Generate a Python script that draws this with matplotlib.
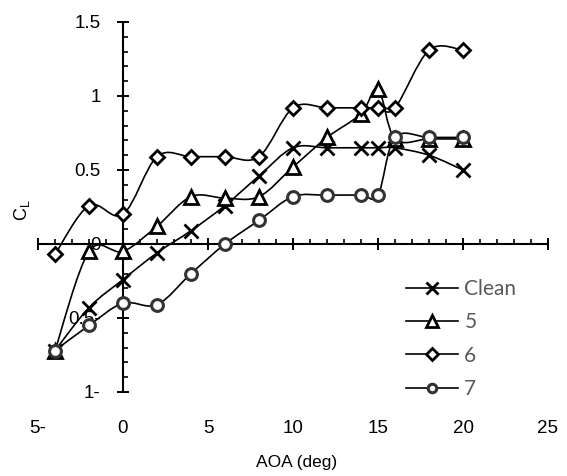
import numpy as np
import matplotlib
matplotlib.use('Agg')
import matplotlib.pyplot as plt
from matplotlib.path import Path
from matplotlib.patches import PathPatch
from matplotlib.lines import Line2D
from matplotlib.ticker import FixedLocator, MultipleLocator

# ---------------- data ----------------
aoa = [-4, -2, 0, 2, 4, 6, 8, 10, 12, 14, 15, 16, 18, 20]
cl_clean = [-0.72, -0.43, -0.24, -0.06, 0.09, 0.26, 0.46, 0.65, 0.65, 0.65, 0.65, 0.65, 0.60, 0.50]
cl_5 = [-0.72, -0.05, -0.05, 0.12, 0.32, 0.31, 0.32, 0.52, 0.72, 0.88, 1.05, 0.71, 0.71, 0.71]
cl_6 = [-0.07, 0.26, 0.20, 0.59, 0.59, 0.59, 0.59, 0.92, 0.92, 0.92, 0.92, 0.92, 1.31, 1.31]
cl_7 = [-0.72, -0.55, -0.40, -0.41, -0.20, 0.00, 0.16, 0.32, 0.33, 0.33, 0.33, 0.72, 0.72, 0.72]
series_labels = ['Clean', '5', '6', '7']
x_ticks = [-5, 0, 5, 10, 15, 20, 25]
x_tick_labels = ['5-', '0', '5', '10', '15', '20', '25']
y_ticks = [-1, -0.5, 0, 0.5, 1, 1.5]
y_tick_labels = ['1-', '0.5-', '0', '0.5', '1', '1.5']
x_title = 'AOA (deg)'
y_title = r'C$_\mathregular{L}$'


def smooth_path(x, y):
    """Excel-like smoothed line: Catmull-Rom segments drawn as cubic Beziers."""
    pts = np.column_stack([x, y]).astype(float)
    n = len(pts)
    verts = [pts[0]]
    codes = [Path.MOVETO]
    for i in range(n - 1):
        p0 = pts[i - 1] if i > 0 else pts[i]
        p1 = pts[i]
        p2 = pts[i + 1]
        p3 = pts[i + 2] if i + 2 < n else pts[i + 1]
        verts += [p1 + (p2 - p0) / 6.0, p2 - (p3 - p1) / 6.0, p2]
        codes += [Path.CURVE4] * 3
    return Path(verts, codes)


plt.rcParams['font.family'] = ['Liberation Sans', 'DejaVu Sans']
plt.rcParams['mathtext.fontset'] = 'custom'
plt.rcParams['mathtext.rm'] = 'Liberation Sans'

fig = plt.figure(figsize=(5.67, 4.76), dpi=100)
W, H = 567, 476
ax = fig.add_axes([38 / W, 1 - 392 / H, (548 - 38) / W, (392 - 22) / H])
ax.set_xlim(-5, 25)
ax.set_ylim(-1, 1.5)

styles = [
    dict(marker='x', markersize=9.5, markeredgewidth=2.0, markeredgecolor='black'),
    dict(marker='^', markersize=10.5, markeredgewidth=2.0, markeredgecolor='black', markerfacecolor='white'),
    dict(marker='D', markersize=7.0, markeredgewidth=2.0, markeredgecolor='black', markerfacecolor='white'),
    dict(marker='o', markersize=8.5, markeredgewidth=2.2, markeredgecolor='#333333', markerfacecolor='white'),
]
legend_marker_scale = [0.9, 0.85, 0.85, 0.72]

handles = []
for k, (vals, st, lab) in enumerate(zip([cl_clean, cl_5, cl_6, cl_7], styles, series_labels)):
    z = 3 + k * 0.2
    ax.add_patch(PathPatch(smooth_path(aoa, vals), fill=False, edgecolor='black',
                           lw=1.2, zorder=z))
    ax.plot(aoa, vals, linestyle='none', zorder=z + 0.1, **st)
    hst = dict(st)
    hst['markersize'] = st['markersize'] * legend_marker_scale[k]
    handles.append(Line2D([], [], color='black', lw=1.2, label=lab, **hst))

# axes through origin
for s in ['top', 'right']:
    ax.spines[s].set_visible(False)
ax.spines['left'].set_position(('data', 0))
ax.spines['bottom'].set_position(('data', 0))
for s in ['left', 'bottom']:
    ax.spines[s].set_linewidth(1.5)
ax.set_axisbelow(True)

ax.xaxis.set_major_locator(FixedLocator(x_ticks))
ax.set_xticklabels(x_tick_labels)
ax.yaxis.set_major_locator(FixedLocator(y_ticks))
ax.set_yticklabels(y_tick_labels)
ax.xaxis.set_minor_locator(MultipleLocator(1))
ax.yaxis.set_minor_locator(MultipleLocator(0.1))

ax.tick_params(which='major', direction='inout', length=9, width=1.4, labelsize=13.5)
ax.tick_params(which='minor', direction='in', length=3.6, width=1.2)
ax.tick_params(axis='y', which='major', pad=11.5)
ax.tick_params(axis='x', which='major', pad=122)

ax.set_xlabel(x_title, fontsize=12.5)
ax.xaxis.set_label_coords((297 - 38) / 510, (392 - 463) / 370)
ax.xaxis.label.set_va('center')
ax.set_ylabel(y_title, fontsize=13)
ax.yaxis.set_label_coords((22 - 38) / 510, (392 - 210) / 370)
ax.yaxis.label.set_va('center')

leg = ax.legend(handles=handles, loc='upper left', bbox_to_anchor=(406 / W, 1 - 279 / H),
                bbox_transform=fig.transFigure, frameon=False, borderpad=0, borderaxespad=0,
                handlelength=2.5, handletextpad=0.3, labelspacing=0.64,
                prop={'family': ['Lato', 'DejaVu Sans'], 'size': 15})
for t in leg.get_texts():
    t.set_color('#595959')

fig.savefig('out.png', dpi=100)
